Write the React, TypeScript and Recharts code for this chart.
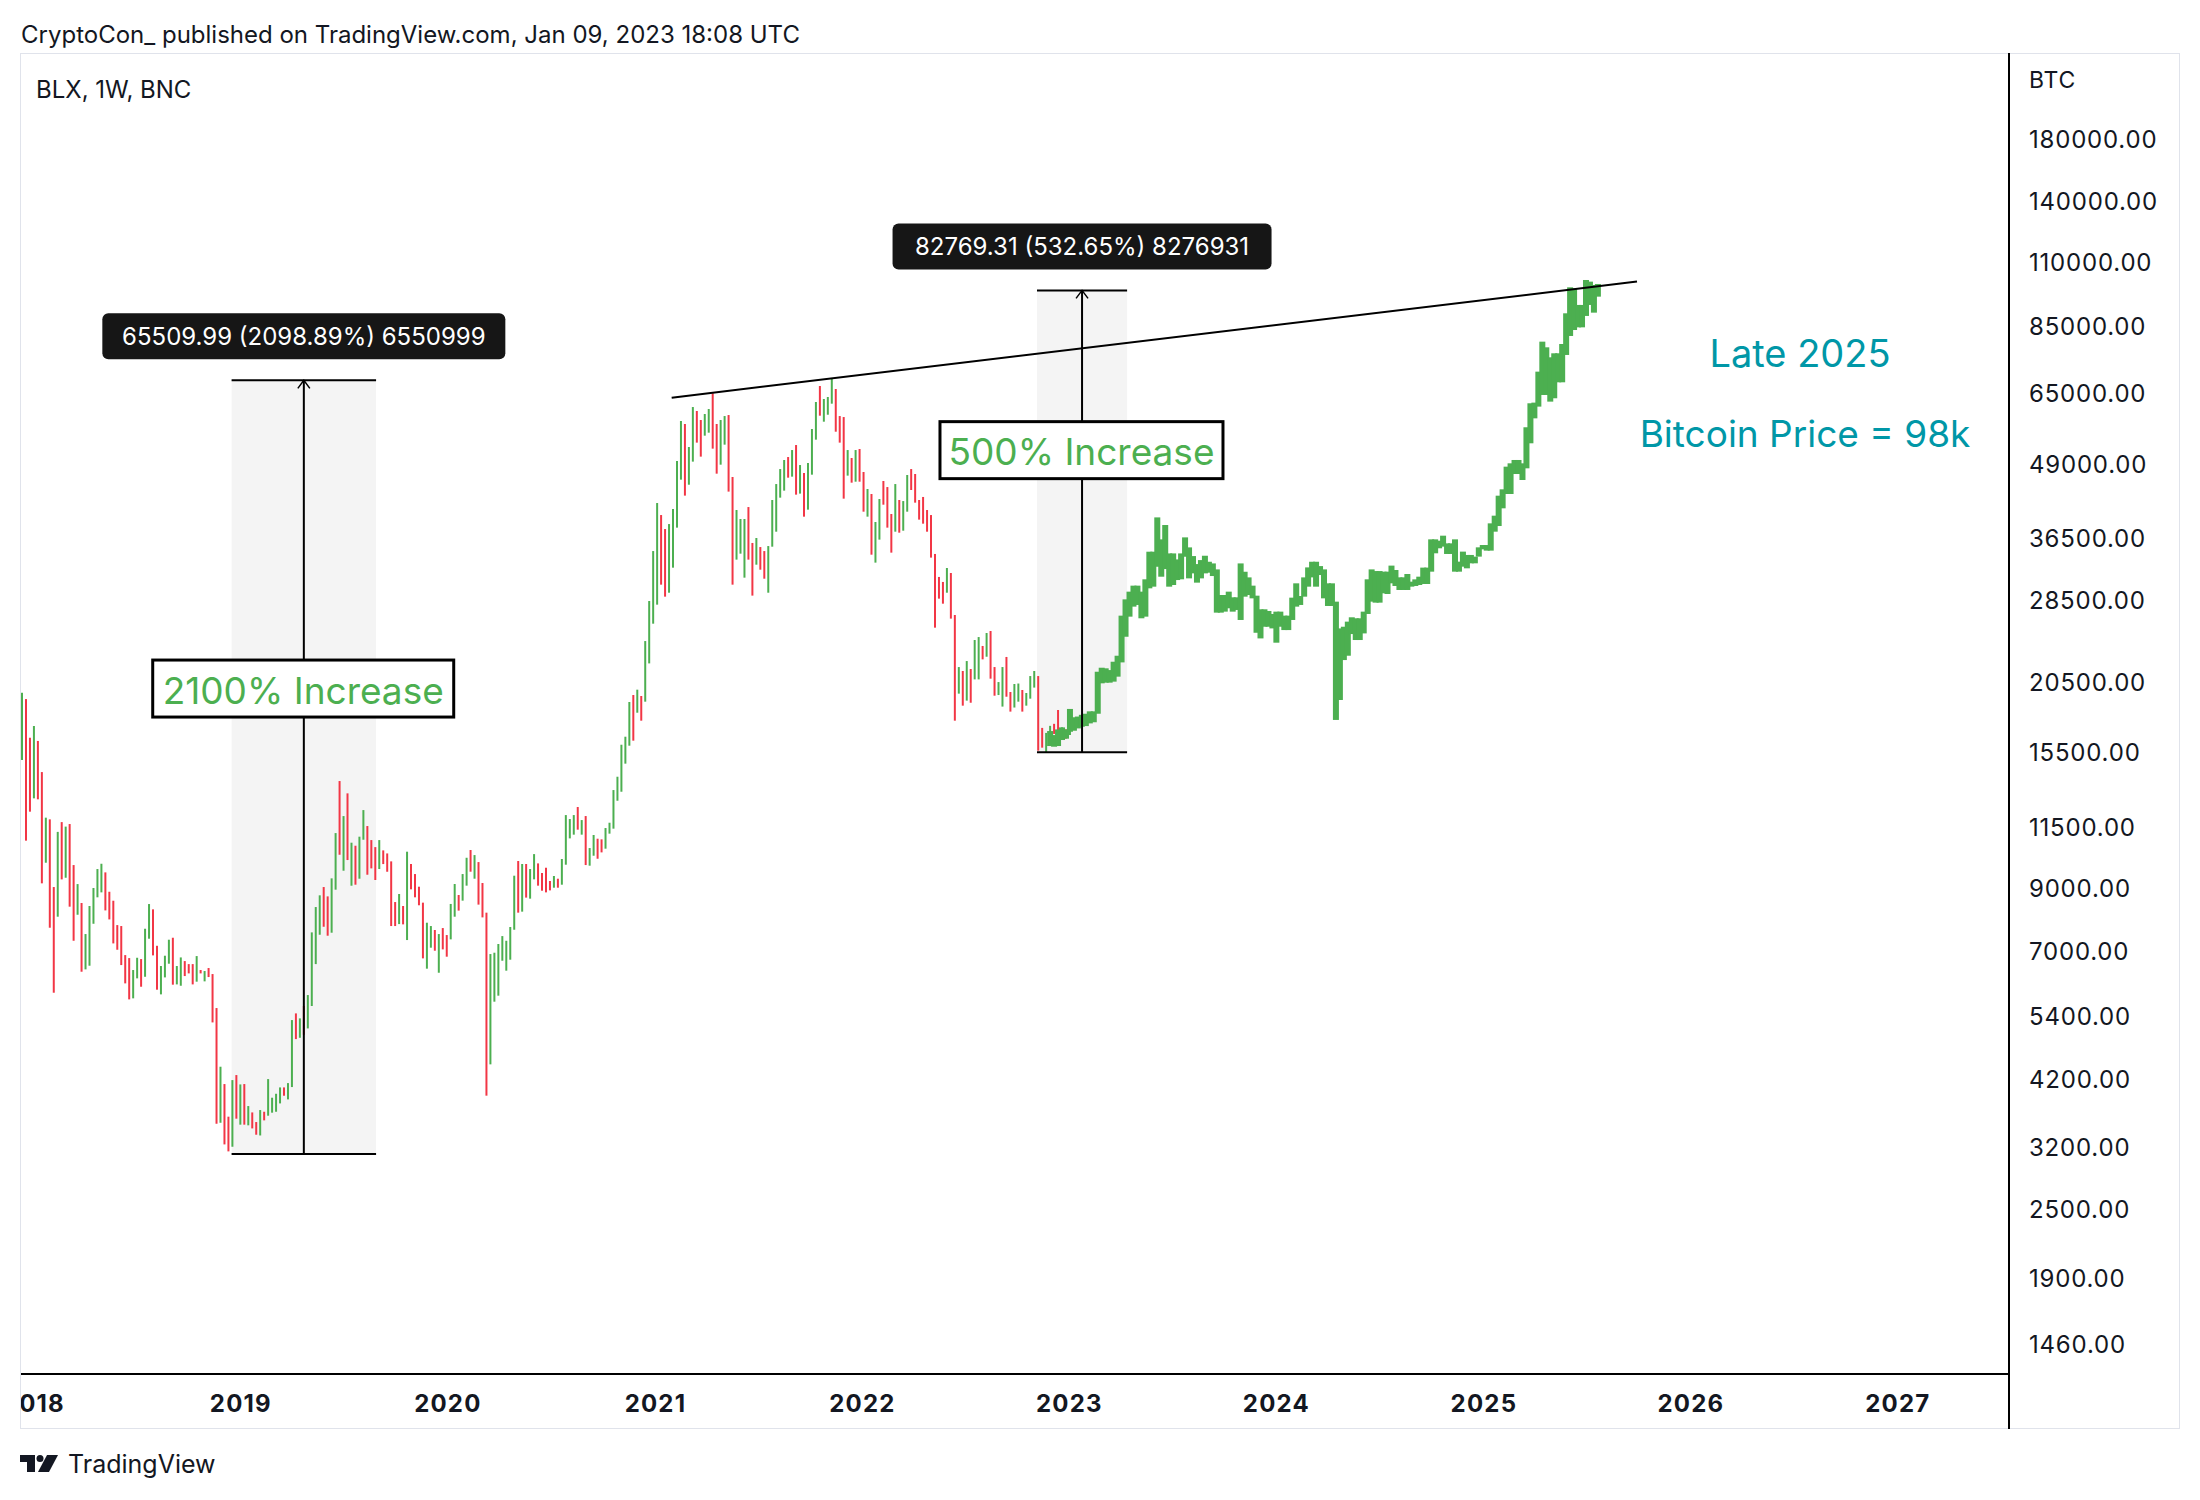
import React from "react";
import { ComposedChart, Bar, Cell, XAxis, YAxis, ReferenceArea, ReferenceLine, ReferenceDot } from "recharts";

const FONT = "Inter, 'Noto Sans', sans-serif";
const GREEN = "#4CAF50";
const RED = "#F23645";
const INK = "#131722";
const TEAL = "#0097A7";

// weekly bars, first one is the week of 11 Dec 2017
const START = Date.UTC(2017, 11, 11);
const WEEK = 7 * 24 * 3600 * 1000;
const weekOf = (y: number, m: number, d: number) => (Date.UTC(y, m, d) - START) / WEEK;

// BLX 1W history (high / low), G = up week, R = down week
const histHigh = [
  19700, 19210, 16460, 17250, 16250, 14350, 11960, 11880, 9065, 11300,
  11750, 11540, 11660, 9897, 9173, 8505, 7513, 8404, 9030, 9741,
  9949, 9612, 8896, 8583, 7787, 7757, 6907, 6825, 6507, 6834,
  6798, 7674, 8470, 8292, 7169, 6612, 6890, 7345, 7403, 6612,
  6843, 6744, 6663, 6663, 6880, 6507, 6481, 6559, 6403, 5590,
  4422, 4126, 3622, 4192, 4277, 4120, 4126, 3779, 3684, 3545,
  3719, 3694, 4209, 3907, 3969, 4071, 4071, 4142, 5328, 5472,
  5364, 5636, 5888, 7563, 8369, 8770, 9065, 8733, 9385, 11246,
  13845, 12036, 13180, 10822, 10692, 11085, 12328, 11567, 10936, 10633,
  10936, 10495, 10368, 10044, 8538, 8816, 8404, 10440, 9940, 9548,
  9077, 8517, 7861, 7757, 7635, 7513, 7695, 7483, 8473, 9175,
  8781, 9548, 10190, 10510, 10300, 10016, 9212, 8183, 6936, 6973,
  7220, 7452, 7314, 7727, 9485, 10058, 9940, 9940, 9741, 10340,
  9963, 9588, 9792, 9287, 9474, 9372, 10140, 12085, 11895, 12085,
  12480, 11846, 12038, 10593, 11160, 10996, 10968, 11475, 11721, 13355,
  14085, 16006, 16527, 18985, 19522, 19944, 19446, 24220, 28420, 34700,
  42040, 40070, 37890, 38650, 41050, 49730, 58340, 57650, 52580, 61690,
  60720, 58570, 59990, 61200, 65170, 57650, 58570, 59510, 59750, 46650,
  40880, 39440, 39440, 41370, 35840, 36560, 35260, 34700, 35400, 42550,
  45350, 48150, 49920, 50520, 51950, 53000, 48930, 47400, 49330, 56500,
  62940, 67100, 63700, 64210, 69010, 66300, 59510, 59270, 51950, 50320,
  51950, 52170, 47590, 44460, 43580, 38970, 42720, 45910, 44810, 40240,
  45350, 42550, 42370, 47020, 48150, 47210, 42550, 43070, 40880, 40070,
  34300, 31290, 30670, 32430, 31790, 26880, 21830, 21490, 22360, 21660,
  24320, 24610, 23750, 25010, 25210, 21830, 20560, 21830, 22730, 19760,
  20400, 20440, 19920, 19680, 21060, 21490, 21060, 17120, 16780, 17260,
  17400, 18390, 17160, 17020, 17330, 17670,
];
const histLow = [
  15060, 10910, 12250, 12920, 12870, 9200, 9990, 7705, 5943, 8052,
  9346, 9408, 8381, 7314, 8115, 6463, 6524, 6620, 7828, 8700,
  8874, 8257, 7965, 7237, 7056, 6637, 6169, 5787, 5811, 6294,
  6087, 6334, 7374, 6899, 6015, 5904, 6318, 6673, 6137, 6144,
  6111, 6352, 6420, 6144, 6211, 6420, 6219, 6327, 5278, 3521,
  3535, 3242, 3153, 3212, 3593, 3508, 3508, 3499, 3456, 3370,
  3360, 3569, 3636, 3680, 3694, 3819, 3938, 3881, 4077, 4938,
  4964, 5024, 5153, 5636, 6663, 7492, 7735, 7463, 7553, 8970,
  10313, 9676, 10097, 9113, 9150, 9372, 10951, 9522, 9766, 9323,
  9741, 9936, 9636, 7757, 7757, 7818, 7809, 7335, 8982, 8700,
  8428, 6817, 6542, 7114, 7029, 6437, 7066, 6863, 7355, 8052,
  8250, 8585, 9115, 9638, 9372, 8450, 8030, 3939, 4464, 5734,
  5873, 6753, 6490, 6781, 7643, 8183, 8216, 8690, 8654, 9348,
  9115, 8933, 8874, 8945, 9041, 9041, 9150, 9911, 11010, 11175,
  11400, 11175, 9897, 9872, 10273, 10150, 10411, 10566, 11220, 11446,
  12797, 13266, 14840, 15944, 16267, 18190, 17620, 19010, 22150, 25960,
  28010, 30340, 28920, 29380, 32470, 38100, 46150, 43300, 45230, 49600,
  53510, 50600, 55020, 55680, 52240, 47270, 49000, 53080, 44000, 30340,
  33530, 34340, 31200, 33530, 29040, 32860, 32210, 31070, 29380, 35310,
  37490, 42950, 44170, 46520, 46710, 43470, 43650, 39810, 40940, 47080,
  54150, 59590, 58180, 59820, 62520, 55900, 53510, 42780, 46900, 45600,
  45780, 45780, 40610, 39810, 34200, 33130, 36320, 41760, 38100, 34480,
  37490, 37340, 37640, 40610, 44280, 42100, 39340, 38710, 37490, 33800,
  25550, 28690, 28120, 29380, 26490, 17620, 19630, 18710, 19090, 18930,
  20780, 20780, 22510, 22750, 20840, 19470, 19520, 18640, 19390, 18270,
  18570, 19010, 18270, 18710, 19240, 20110, 15630, 15820, 15500, 16310,
  16710, 16580, 16310, 16400, 16640, 17160,
];
const histDir =
  "GRRGRRGRRG" + "RGRRGRGGGG" + "GRRRRRRRGG" + "RGGRRGGGRG" + "GRRRGRGRRR" +
  "GRRGRGRGRR" + "GRGGGGRGGR" + "GRGGGGRRGG" + "RGRGRGGRRR" + "GRRRRGRGRR" +
  "RRGGRGRRGG" + "RGGRGRRRGG" + "GGGGGRGRGG" + "RRRRGRGGGG" + "RGRGGRRGGG" +
  "GGGGRGRGGG" + "GRRGGGGRGG" + "RRGGRRGGRR" + "GGGRRGRRGG" + "GGGRGRGRGG" +
  "GRGGGRRRGR" + "GRRGRGGRRR" + "GRGGRRRRRR" + "RRRGRRGRGR" + "GGRGRRGGRR" +
  "GGRGGGRRGG" + "RRGRGG";

// projected bars pattern (green), starts at week index 259
const PROJ_START = 259;
const projHigh = [
  16905, 16637, 17017, 17155, 17017, 18466, 17862, 17913, 18038, 18116,
  18290, 18290, 21426, 21772, 21720, 21569, 22300, 22841, 26807, 28610,
  29504, 30220, 30220, 29504, 30995, 34610, 34610, 39694, 36357, 38504,
  34375, 34375, 33560, 34375, 36649, 35212, 34011, 32940, 33471, 34056,
  33248, 33028, 32248, 29112, 29112, 29504, 28842, 28842, 33028, 31946,
  31235, 30220, 29035, 27495, 27495, 27312, 26987, 27240, 27240, 26807,
  26807, 28806, 30502, 28996, 31235, 32506, 33248, 33248, 32675, 32248,
  30502, 30502, 28349, 25476, 25646, 26173, 26631, 26525, 26525, 27240,
  30995, 32248, 32034, 32034, 31957, 31957, 32739, 32170, 31240, 31240,
  31659, 30706, 30989, 31324, 32478, 32478, 36360, 36360, 36166, 36897,
  35783, 35783, 36360, 33262, 34620, 34163, 34163, 33935, 35218, 35545,
  35545, 38760, 39967, 43291, 44404, 48613, 49265, 49927, 49927, 49265,
  56898, 62620, 62787, 71058, 80102, 78312, 75244, 76460, 76460, 79358,
  89710, 99521, 99130, 92754, 92754, 102478, 101807, 100452, 100858,
];
const projLow = [
  15924, 15880, 15924, 16310, 16398, 16857, 16926, 17085, 17200, 17245,
  17430, 17509, 18116, 20456, 20511, 20511, 20594, 21009, 22240, 24640,
  26700, 27790, 27976, 26525, 26700, 29899, 30098, 32590, 31320, 32292,
  30098, 30300, 30905, 30995, 33920, 31112, 31740, 30585, 31112, 31740,
  31825, 31403, 27131, 27131, 27240, 27607, 27240, 27422, 26348, 28919,
  29112, 28726, 25036, 24477, 25646, 25646, 25476, 24062, 25646, 25307,
  25307, 26348, 27790, 27976, 28919, 30098, 31235, 30098, 31530, 28726,
  27864, 27864, 17673, 19139, 22449, 22841, 24906, 24320, 24320, 24971,
  26987, 28349, 28236, 28236, 29309, 29230, 30503, 30181, 29702, 29702,
  29702, 30100, 30181, 30301, 30422, 30422, 31957, 34390, 35085, 35318,
  34298, 34298, 31957, 31957, 32601, 32386, 33042, 33042, 33935, 34938,
  34758, 34758, 37493, 38349, 41159, 43583, 43583, 47207, 47207, 46090,
  48291, 53368, 58962, 61792, 64735, 64735, 63035, 63885, 68097, 68097,
  75955, 81941, 83916, 84816, 84816, 88767, 92754, 89943, 95879,
];

const yearLabels = [2018, 2019, 2020, 2021, 2022, 2023, 2024, 2025, 2026, 2027];
const priceTicks = [
  1460, 1900, 2500, 3200, 4200, 5400, 7000, 9000, 11500, 15500,
  20500, 28500, 36500, 49000, 65000, 85000, 110000, 140000, 180000,
];

// drawing tools (week index / price)
const measures = [
  { from: 52.8, to: 89.2, low: 3121.18, high: 68631.17, label: "65509.99 (2098.89%) 6550999", boxW: 403 },
  { from: 255.7, to: 278.4, low: 15539.4, high: 98308.71, label: "82769.31 (532.65%) 8276931", boxW: 379 },
];
const notes = [
  { at: 32.93, price: 22450, text: "2100% Increase", w: 301 },
  { at: 231.26, price: 58190, text: "500% Increase", w: 283 },
];
const trend = [
  { x: 163.67, y: 64030 },
  { x: 406.85, y: 101830 },
];

const X_MIN = -0.504;
const X_MAX = 500.57;
const Y_MIN = 1295.6;
const Y_MAX = 253790;

const yearTicks = yearLabels.map((y) => weekOf(y, 0, 1));

const rows: any[] = [];
for (let k = 0; k < PROJ_START + projHigh.length; k++) {
  const row: any = { i: k };
  if (k < histHigh.length) {
    row.h = [histLow[k], histHigh[k]];
    row.c = histDir[k] === "G" ? GREEN : RED;
  }
  const p = k - PROJ_START;
  if (p >= 0 && p < projHigh.length) row.p = [projLow[p], projHigh[p]];
  rows.push(row);
}

const Arrowhead = ({ cx, cy }: any) => (
  <path d={`M${cx - 6},${cy + 8} L${cx},${cy} L${cx + 6},${cy + 8}`} fill="none" stroke="#000" strokeWidth={1.5} />
);

// projected bars are drawn 6px wide, so neighbours overlap into one band
const ThickBar = (p: any) =>
  p.height == null || isNaN(p.height) ? null : (
    <rect x={p.x + p.width / 2 - 3} y={p.y} width={6} height={Math.max(p.height, 1)} fill={GREEN} />
  );

export default function App() {
  return (
    <div style={{ position: "absolute", left: 0, top: 0, width: 2200, height: 1500, background: "#fff", fontFamily: FONT, color: INK }}>
      <div style={{ position: "absolute", left: 21, top: 21, fontSize: 24, lineHeight: "28px", whiteSpace: "nowrap" }}>
        CryptoCon_ published on TradingView.com, Jan 09, 2023 18:08 UTC
      </div>

      <div style={{ position: "absolute", left: 20, top: 53, width: 2160, height: 1376, overflow: "hidden" }}>
        <ComposedChart width={2160} height={1376} data={rows} margin={{ top: 0, right: 0, bottom: 0, left: 0 }}>
          <XAxis
            xAxisId="h"
            dataKey="i"
            type="number"
            domain={[X_MIN, X_MAX]}
            allowDataOverflow
            ticks={yearTicks}
            interval={0}
            tickFormatter={(v: number) => String(yearLabels[yearTicks.indexOf(v)])}
            axisLine={{ stroke: "#000", strokeWidth: 2 }}
            tickLine={false}
            tickSize={0}
            tickMargin={21}
            height={55}
            tick={{ fill: INK, fontSize: 24, fontWeight: 700, fontFamily: FONT, letterSpacing: 1.2 }}
          />
          <XAxis xAxisId="p" dataKey="i" type="number" domain={[X_MIN, X_MAX]} allowDataOverflow hide />
          <YAxis
            orientation="right"
            scale="log"
            domain={[Y_MIN, Y_MAX]}
            allowDataOverflow
            ticks={priceTicks}
            interval={0}
            tickFormatter={(v: number) => v.toFixed(2)}
            axisLine={false}
            tickLine={false}
            tickSize={0}
            tickMargin={20}
            width={171}
            tick={{ fill: INK, fontSize: 24, fontFamily: FONT, textAnchor: "start", letterSpacing: 0.8 }}
          />

          {measures.map((m, k) => (
            <ReferenceArea key={`a${k}`} xAxisId="h" x1={m.from} x2={m.to} y1={m.low} y2={m.high} fill="#000" fillOpacity={0.045} stroke="none" />
          ))}

          <Bar xAxisId="h" dataKey="h" barSize={2} isAnimationActive={false}>
            {rows.map((r, k) => (
              <Cell key={k} fill={r.c || GREEN} />
            ))}
          </Bar>
          <Bar xAxisId="p" dataKey="p" barSize={2} fill={GREEN} shape={ThickBar} isAnimationActive={false} />

          <ReferenceLine xAxisId="h" segment={trend} stroke="#000" strokeWidth={2} ifOverflow="visible" />
          {measures.map((m, k) => [
            <ReferenceLine key={`t${k}`} xAxisId="h" segment={[{ x: m.from, y: m.high }, { x: m.to, y: m.high }]} stroke="#000" strokeWidth={2} />,
            <ReferenceLine key={`b${k}`} xAxisId="h" segment={[{ x: m.from, y: m.low }, { x: m.to, y: m.low }]} stroke="#000" strokeWidth={2} />,
            <ReferenceLine key={`v${k}`} xAxisId="h" segment={[{ x: (m.from + m.to) / 2, y: m.low }, { x: (m.from + m.to) / 2, y: m.high }]} stroke="#000" strokeWidth={2} />,
            <ReferenceDot key={`h${k}`} xAxisId="h" x={(m.from + m.to) / 2} y={m.high} r={0} shape={Arrowhead} />,
          ])}

          {notes.map((n, k) => (
            <ReferenceDot
              key={`n${k}`}
              xAxisId="h"
              x={n.at}
              y={n.price}
              r={0}
              shape={({ cx, cy }: any) => (
                <g>
                  <rect x={cx} y={cy} width={n.w} height={57} fill="#fff" stroke="#000" strokeWidth={3} />
                  <text x={cx + n.w / 2} y={cy + 30} textAnchor="middle" dominantBaseline="central" fill={GREEN} fontSize={37} fontFamily={FONT}>
                    {n.text}
                  </text>
                </g>
              )}
            />
          ))}

          {measures.map((m, k) => (
            <ReferenceDot
              key={`l${k}`}
              xAxisId="h"
              x={(m.from + m.to) / 2}
              y={m.high}
              r={0}
              shape={({ cx, cy }: any) => (
                <g>
                  <rect x={cx - m.boxW / 2} y={cy - 67} width={m.boxW} height={46} rx={6} fill="#161616" />
                  <text x={cx} y={cy - 44} textAnchor="middle" dominantBaseline="central" fill="#fff" fontSize={24} fontFamily={FONT}>
                    {m.label}
                  </text>
                </g>
              )}
            />
          ))}
        </ComposedChart>
      </div>

      <div style={{ position: "absolute", left: 20, top: 53, width: 2160, height: 1376, border: "1px solid #E0E3EB", boxSizing: "border-box", pointerEvents: "none" }} />
      <div style={{ position: "absolute", left: 2008, top: 53, width: 2, height: 1376, background: "#000" }} />

      <div style={{ position: "absolute", left: 36, top: 76, fontSize: 24, lineHeight: "28px" }}>BLX, 1W, BNC</div>
      <div style={{ position: "absolute", left: 2029, top: 67, fontSize: 23, lineHeight: "26px", letterSpacing: 0.8 }}>BTC</div>

      <div style={{ position: "absolute", left: 1600, width: 400, top: 331, textAlign: "center", fontSize: 38, lineHeight: "44px", color: TEAL }}>
        Late 2025
      </div>
      <div style={{ position: "absolute", left: 1605, width: 400, top: 412, textAlign: "center", fontSize: 37, lineHeight: "44px", color: TEAL }}>
        Bitcoin Price = 98k
      </div>

      <div style={{ position: "absolute", left: 20, top: 1450, display: "flex", alignItems: "center" }}>
        <svg width={38} height={18} viewBox="0 0 38 18">
          <path d="M0 0 H15 V17 H7 V7 H0 Z" fill={INK} />
          <circle cx={20} cy={3.5} r={3.5} fill={INK} />
          <path d="M27 0 H38 L29 17 H18 Z" fill={INK} />
        </svg>
        <span style={{ marginLeft: 10, fontSize: 25, lineHeight: "28px" }}>TradingView</span>
      </div>
    </div>
  );
}
